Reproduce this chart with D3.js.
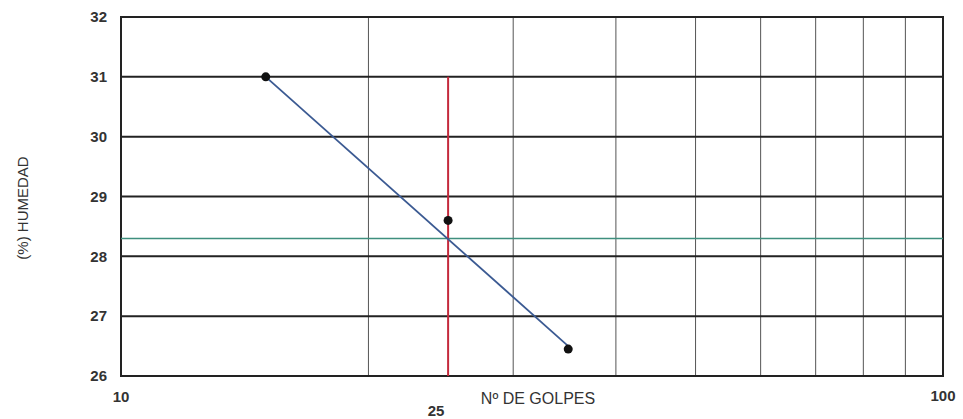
<!DOCTYPE html>
<html>
<head>
<meta charset="utf-8">
<script src="https://cdn.jsdelivr.net/npm/d3@7"></script>
<style>
  html, body { margin: 0; padding: 0; background: #fff; }
  svg { display: block; font-family: "Liberation Sans", Arial, sans-serif; }
</style>
</head>
<body>
<svg id="chart" width="963" height="419"></svg>
<script>
// Liquid limit test: moisture content vs. number of blows (log scale)
const blows = [15, 25, 35];
const moisture = [31.0, 28.6, 26.45];
const trendBlows = [15, 35];
const trendMoisture = [31.0, 26.5];
const limitBlows = 25;
const limitMoisture = 28.3;
const yTicks = [26, 27, 28, 29, 30, 31, 32];
const xGrid = [20, 30, 40, 50, 60, 70, 80, 90];
const xLabels = ["10", "100"];

const svg = d3.select("#chart");
const m = { left: 121, right: 943, top: 17, bottom: 376 };

const x = d3.scaleLog().domain([10, 100]).range([m.left, m.right]);
const y = d3.scaleLinear().domain([26, 32]).range([m.bottom, m.top]);

// vertical log grid
svg.append("g").selectAll("line").data(xGrid).join("line")
  .attr("x1", d => x(d)).attr("x2", d => x(d))
  .attr("y1", m.top).attr("y2", m.bottom)
  .attr("stroke", "#555").attr("stroke-width", 1);

// horizontal grid
svg.append("g").selectAll("line").data(yTicks).join("line")
  .attr("x1", m.left).attr("x2", m.right)
  .attr("y1", d => y(d)).attr("y2", d => y(d))
  .attr("stroke", "#222").attr("stroke-width", 2);

// frame
svg.append("rect")
  .attr("x", m.left).attr("y", m.top)
  .attr("width", m.right - m.left).attr("height", m.bottom - m.top)
  .attr("fill", "none").attr("stroke", "#222").attr("stroke-width", 2);

// limit moisture line
svg.append("line")
  .attr("x1", m.left).attr("x2", m.right)
  .attr("y1", y(limitMoisture)).attr("y2", y(limitMoisture))
  .attr("stroke", "#3f8f7e").attr("stroke-width", 1.5);

// 25 blows reference
svg.append("line")
  .attr("x1", x(limitBlows)).attr("x2", x(limitBlows))
  .attr("y1", y(31)).attr("y2", m.bottom)
  .attr("stroke", "#c42a3c").attr("stroke-width", 2);

// trend line
const line = d3.line().x(d => x(d[0])).y(d => y(d[1]));
svg.append("path")
  .datum(d3.zip(trendBlows, trendMoisture))
  .attr("d", line)
  .attr("fill", "none").attr("stroke", "#3b5a92").attr("stroke-width", 1.8);

// test points
svg.append("g").selectAll("circle").data(d3.zip(blows, moisture)).join("circle")
  .attr("cx", d => x(d[0])).attr("cy", d => y(d[1])).attr("r", 4.5)
  .attr("fill", "#111");

// y tick labels
svg.append("g").selectAll("text").data(yTicks).join("text")
  .attr("x", 107).attr("y", d => y(d)).attr("dy", "0.35em")
  .attr("text-anchor", "end").attr("font-size", 15).attr("font-weight", "bold")
  .attr("fill", "#333").text(d => d);

// x labels
svg.append("text").attr("x", x(10)).attr("y", 402).attr("text-anchor", "middle")
  .attr("font-size", 15).attr("font-weight", "bold").attr("fill", "#333").text(xLabels[0]);
svg.append("text").attr("x", x(100)).attr("y", 401).attr("text-anchor", "middle")
  .attr("font-size", 15).attr("font-weight", "bold").attr("fill", "#333").text(xLabels[1]);
svg.append("text").attr("x", x(limitBlows) - 12).attr("y", 416).attr("text-anchor", "middle")
  .attr("font-size", 15).attr("font-weight", "bold").attr("fill", "#333").text(limitBlows);

svg.append("text").attr("x", 538).attr("y", 404).attr("text-anchor", "middle")
  .attr("font-size", 16).attr("fill", "#333").text("Nº DE GOLPES");

svg.append("text")
  .attr("transform", "translate(28,208) rotate(-90)")
  .attr("text-anchor", "middle").attr("font-size", 15).attr("fill", "#333")
  .text("(%) HUMEDAD");
</script>
</body>
</html>
